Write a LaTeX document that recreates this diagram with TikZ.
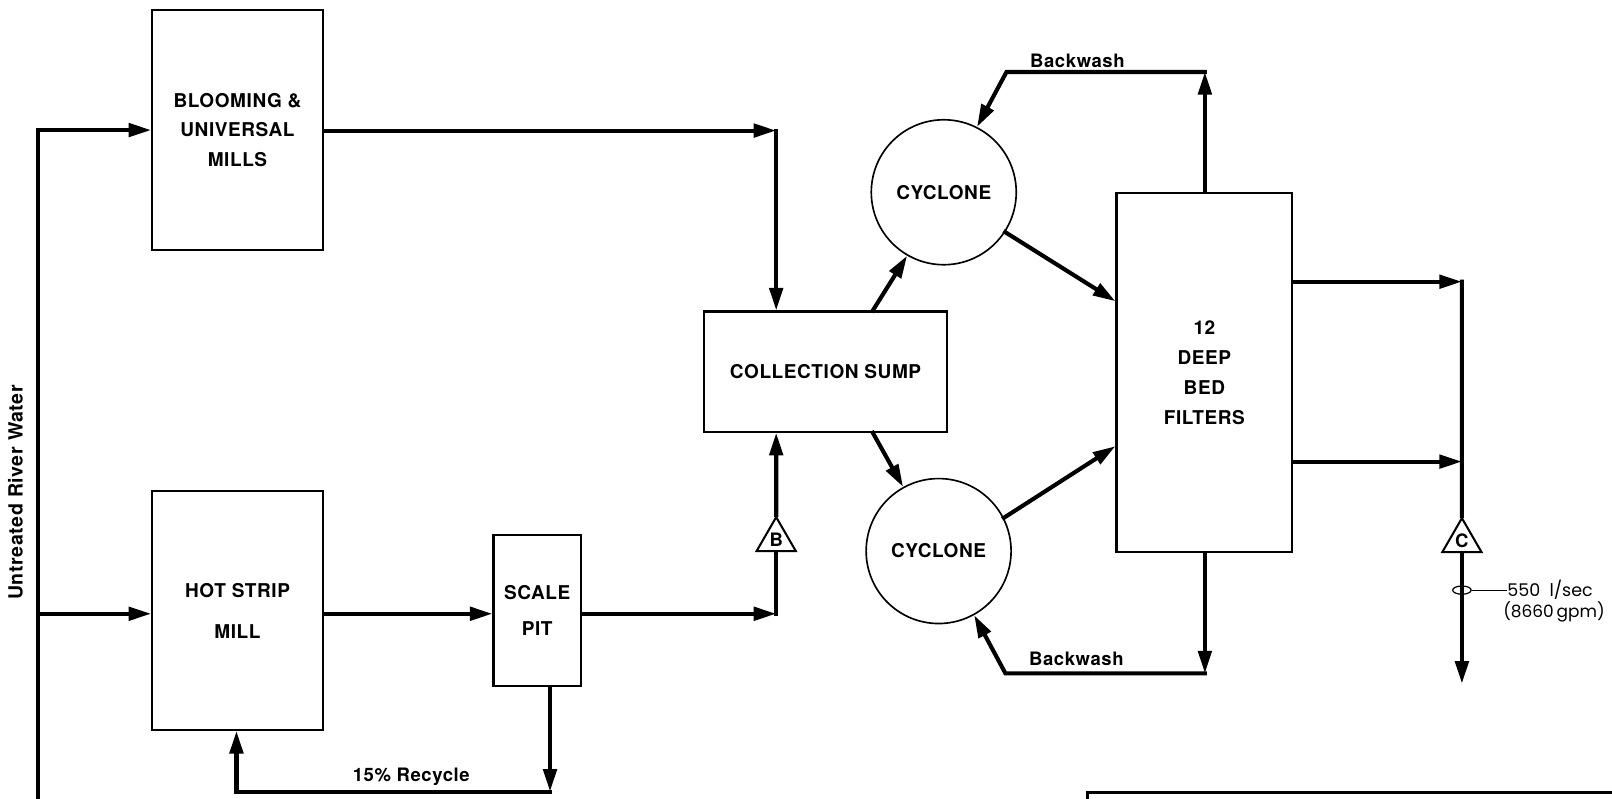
\documentclass[tikz,border=0pt]{standalone}
\usepackage{fontspec}
\setmainfont{TeX Gyre Heros}[LetterSpace=3]
\newfontfamily\labfont{Poppins}
\usetikzlibrary{arrows.meta,shapes.geometric}
\begin{document}
\begin{tikzpicture}[x=1pt,y=-1pt,
  flow/.style={line width=4pt, line cap=rect, line join=miter},
  >={Triangle[length=22pt,width=13pt]},
  box/.style={draw, line width=2pt, inner sep=0pt, align=center, font=\bfseries\fontsize{18.5}{29}\selectfont},
  cyc/.style={draw, circle, line width=1.6pt, minimum size=141pt, inner sep=0pt, font=\bfseries\fontsize{18.5}{22}\selectfont},
  tri/.style={draw, fill=white, regular polygon, regular polygon sides=3, minimum size=44pt, inner sep=0pt, line width=2pt, font=\bfseries\fontsize{18}{20}\selectfont},
  lbl/.style={font=\bfseries\fontsize{18}{22}\selectfont, inner sep=0pt}
]
\useasboundingbox (0,0) rectangle (1568,777);

% boxes
\node[box, minimum width=166pt, minimum height=233pt] (bloom) at (231,126.5) {BLOOMING \&\\UNIVERSAL\\MILLS};
\node[box, minimum width=166pt, minimum height=232pt] (hot) at (231,594) {HOT STRIP\\[11pt]MILL};
\node[box, minimum width=85pt, minimum height=147pt] (pit) at (522.5,593.5) {SCALE\\[6pt]PIT};
\node[box, minimum width=236pt, minimum height=117pt] (sump) at (803,361.5) {COLLECTION SUMP};
\node[box, minimum width=171pt, minimum height=349pt] (filter) at (1171.5,362.5) {12\\DEEP\\BED\\FILTERS};
\node[cyc] (cyc1) at (918,187) {CYCLONE};
\node[cyc] (cyc2) at (913,536) {CYCLONE};
\node[tri] (B) at (755,525) {B};
\node[tri] (C) at (1422,526) {C};
\node[draw, line width=2.5pt, anchor=north west, minimum width=600pt, minimum height=60pt] (legend) at (1056.5,769.5) {};

% corner coordinates
\coordinate (src) at (37,800);
\coordinate (c1) at (755,127);
\coordinate (cB) at (755,597);
\coordinate (r1) at (535,770);
\coordinate (r2) at (230,770);
\coordinate (bw1) at (1172,70);
\coordinate (bw2) at (979,70);
\coordinate (bw3) at (1172,655);
\coordinate (bw4) at (978,655);
\coordinate (o1) at (1422,274);
\coordinate (o2) at (1422,449);
\coordinate (oe) at (1422,665);

% river water feed
\draw[flow,->] (src) |- (bloom.west);
\draw[flow,->] (src |- cB) -- (cB -| hot.west);

% mills to sump
\draw[flow,->] (c1 -| bloom.east) -- (c1);
\draw[flow,->] (c1) -- (sump.north -| c1);
\draw[flow,->] (cB -| hot.east) -- (cB -| pit.west);
\draw[flow,->] (cB -| pit.east) -- (cB);
\draw[flow] (cB) -- (B.south);
\draw[flow,->] (B.north) -- (sump.south -| cB);

% recycle
\draw[flow,->] (pit.south -| r1) -- (r1);
\draw[flow,->] (r1) -- (r2) -- (hot.south -| r2);
\node[lbl] (rec) at (400,756) {15\% Recycle};

% sump to cyclones to filters
\draw[flow,->] ([xshift=46pt]sump.north) -- (cyc1.240);
\draw[flow,->] ([xshift=46pt]sump.south) -- (cyc2.119);
\draw[flow,->] (cyc1.327) -- ([yshift=-106pt]filter.north west);
\draw[flow,->] (cyc2.27) -- ([yshift=-247pt]filter.north west);

% backwash
\draw[flow,->] (filter.north -| bw1) -- (bw1);
\draw[flow,->] (bw1) -- (bw2) -- (cyc1.63);
\node[lbl] (bwt) at (1048,59) {Backwash};
\draw[flow,->] (filter.south -| bw3) -- (bw3);
\draw[flow,->] (bw3) -- (bw4) -- (cyc2.299);
\node[lbl] (bwb) at (1047,641) {Backwash};

% outlet
\draw[flow,->] (o1 -| filter.east) -- (o1);
\draw[flow,->] (o2 -| filter.east) -- (o2);
\draw[flow] (o1) -- (C.north);
\draw[flow,->] (C.south) -- (oe);
\node[draw, ellipse, line width=1.2pt, minimum width=18pt, minimum height=8pt, inner sep=0pt] (ring) at (1422,574) {};
\node[anchor=west, inner sep=0pt, font=\labfont\fontsize{17}{20}\selectfont] (q1) at (1466,574) {550\ \ l/sec};
\node[anchor=west, inner sep=0pt, font=\labfont\fontsize{16.5}{20}\selectfont] (q2) at (1462,595) {(8660\,gpm)};
\draw[line width=1.2pt] (ring.east) -- (q1.west);

% side label
\node[lbl, rotate=90, font=\bfseries\fontsize{19}{22}\selectfont] (river) at (15,479) {Untreated River Water};
\end{tikzpicture}
\end{document}
